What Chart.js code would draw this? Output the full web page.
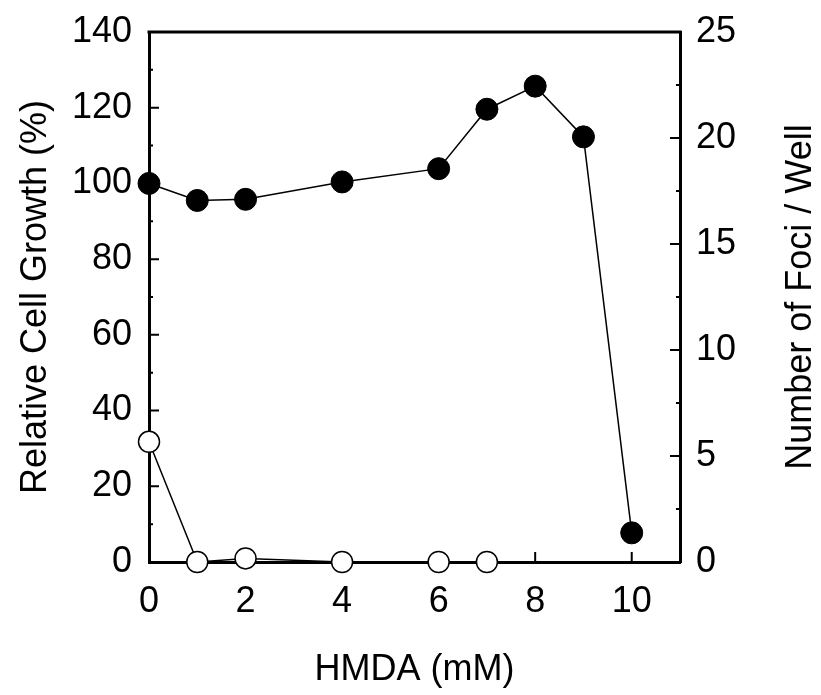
<!DOCTYPE html>
<html lang="en">
<head>
    <meta charset="UTF-8">
    <title>HMDA - Cell Growth and Foci</title>
    <script src="https://cdn.jsdelivr.net/npm/chart.js"></script>
    <style>
        html, body { margin: 0; padding: 0; background: #fff; }
        #wrap { width: 821px; height: 695px; }
    </style>
</head>
<body>
    <div id="wrap"><canvas id="hmdaChart" width="821" height="695"></canvas></div>

    <script>
        // Data
        const growthDose = [0, 1, 2, 4, 6, 7, 8, 9, 10];
        const growthValues = [100, 95.5, 95.8, 100.4, 103.9, 119.6, 125.7, 112.3, 7.7];   // Relative Cell Growth (%)

        const fociDose = [0, 1, 2, 4, 6, 7];
        const fociValues = [5.67, 0, 0.17, 0, 0, 0];   // Number of Foci / Well

        const xTicks = [0, 2, 4, 6, 8, 10];
        const leftTicks = [0, 20, 40, 60, 80, 100, 120, 140];
        const leftMinor = [10, 30, 50, 70, 90, 110, 130];
        const rightTicks = [0, 5, 10, 15, 20, 25];
        const rightMinor = [2.5, 7.5, 12.5, 17.5, 22.5];

        const FONT = 'Liberation Sans, Arial, sans-serif';
        const FSIZE = 36;

        // inward tick marks + top border + right title
        const framePlugin = {
            id: 'frame',
            beforeDatasetsDraw(chart) {
                const c = chart.ctx;
                const a = chart.chartArea;
                const x = chart.scales.x, y = chart.scales.y, y2 = chart.scales.y2;
                c.save();
                c.strokeStyle = '#000';
                c.lineWidth = 3;
                c.beginPath();
                c.moveTo(a.left - 1.5, a.top);
                c.lineTo(a.right + 1.5, a.top);
                c.stroke();

                c.lineWidth = 2;
                c.beginPath();
                xTicks.forEach(v => {
                    const px = x.getPixelForValue(v);
                    c.moveTo(px, a.bottom);
                    c.lineTo(px, a.bottom - 10);
                });
                leftTicks.forEach(v => {
                    const py = y.getPixelForValue(v);
                    c.moveTo(a.left, py);
                    c.lineTo(a.left + 10, py);
                });
                leftMinor.forEach(v => {
                    const py = y.getPixelForValue(v);
                    c.moveTo(a.left, py);
                    c.lineTo(a.left + 4, py);
                });
                rightTicks.forEach(v => {
                    const py = y2.getPixelForValue(v);
                    c.moveTo(a.right, py);
                    c.lineTo(a.right - 10, py);
                });
                rightMinor.forEach(v => {
                    const py = y2.getPixelForValue(v);
                    c.moveTo(a.right, py);
                    c.lineTo(a.right - 4, py);
                });
                c.stroke();

                // right axis title, reading bottom to top
                c.fillStyle = '#000';
                c.font = FSIZE + 'px ' + FONT;
                c.textAlign = 'center';
                c.textBaseline = 'middle';
                c.translate(801, (a.top + a.bottom) / 2);
                c.rotate(-Math.PI / 2);
                c.fillText('Number of Foci / Well', 0, 0);
                c.restore();
            }
        };

        const fitY = w => s => { s.width = w; s.paddingTop = 0; s.paddingBottom = 0; };

        const ctx = document.getElementById('hmdaChart').getContext('2d');
        new Chart(ctx, {
            type: 'scatter',
            data: {
                datasets: [{
                    label: 'Relative Cell Growth',
                    data: growthDose.map((d, i) => ({ x: d, y: growthValues[i] })),
                    yAxisID: 'y',
                    showLine: true,
                    borderColor: '#000',
                    borderWidth: 1.5,
                    pointBackgroundColor: '#000',
                    pointBorderColor: '#000',
                    pointBorderWidth: 1,
                    pointRadius: 11,
                    clip: false
                }, {
                    label: 'Foci',
                    data: fociDose.map((d, i) => ({ x: d, y: fociValues[i] })),
                    yAxisID: 'y2',
                    showLine: true,
                    borderColor: '#000',
                    borderWidth: 1.5,
                    pointBackgroundColor: '#fff',
                    pointBorderColor: '#000',
                    pointBorderWidth: 1.5,
                    pointRadius: 10.5,
                    clip: false
                }]
            },
            options: {
                responsive: false,
                animation: false,
                layout: { padding: { top: 32, left: 0, right: 0, bottom: 0 } },
                plugins: {
                    legend: { display: false },
                    tooltip: { enabled: false }
                },
                scales: {
                    x: {
                        type: 'linear',
                        min: 0,
                        max: 11,
                        afterBuildTicks: s => { s.ticks = xTicks.map(v => ({ value: v })); },
                        afterFit: s => { s.height = 133; s.paddingLeft = 0; s.paddingRight = 0; },
                        grid: { display: true, drawOnChartArea: false, drawTicks: false },
                        border: { display: true, color: '#000', width: 3 },
                        ticks: { color: '#000', padding: 18, autoSkip: false, maxRotation: 0, font: { family: FONT, size: FSIZE } },
                        title: {
                            display: true,
                            text: 'HMDA (mM)',
                            color: '#000',
                            font: { family: FONT, size: FSIZE },
                            padding: { top: 0, bottom: 3 }
                        }
                    },
                    y: {
                        type: 'linear',
                        position: 'left',
                        min: 0,
                        max: 140,
                        afterBuildTicks: s => { s.ticks = leftTicks.map(v => ({ value: v })); },
                        afterFit: fitY(149),
                        grid: { display: true, drawOnChartArea: false, drawTicks: false },
                        border: { display: true, color: '#000', width: 3 },
                        ticks: { color: '#000', padding: 17, font: { family: FONT, size: FSIZE } },
                        title: {
                            display: true,
                            text: 'Relative Cell Growth (%)',
                            color: '#000',
                            font: { family: FONT, size: FSIZE },
                            padding: { top: 14, bottom: 0 }
                        }
                    },
                    y2: {
                        type: 'linear',
                        position: 'right',
                        min: 0,
                        max: 25,
                        afterBuildTicks: s => { s.ticks = rightTicks.map(v => ({ value: v })); },
                        afterFit: fitY(141),
                        grid: { display: true, drawOnChartArea: false, drawTicks: false },
                        border: { display: true, color: '#000', width: 3 },
                        ticks: { color: '#000', padding: 16, font: { family: FONT, size: FSIZE } }
                    }
                }
            },
            plugins: [framePlugin]
        });
    </script>
</body>
</html>
